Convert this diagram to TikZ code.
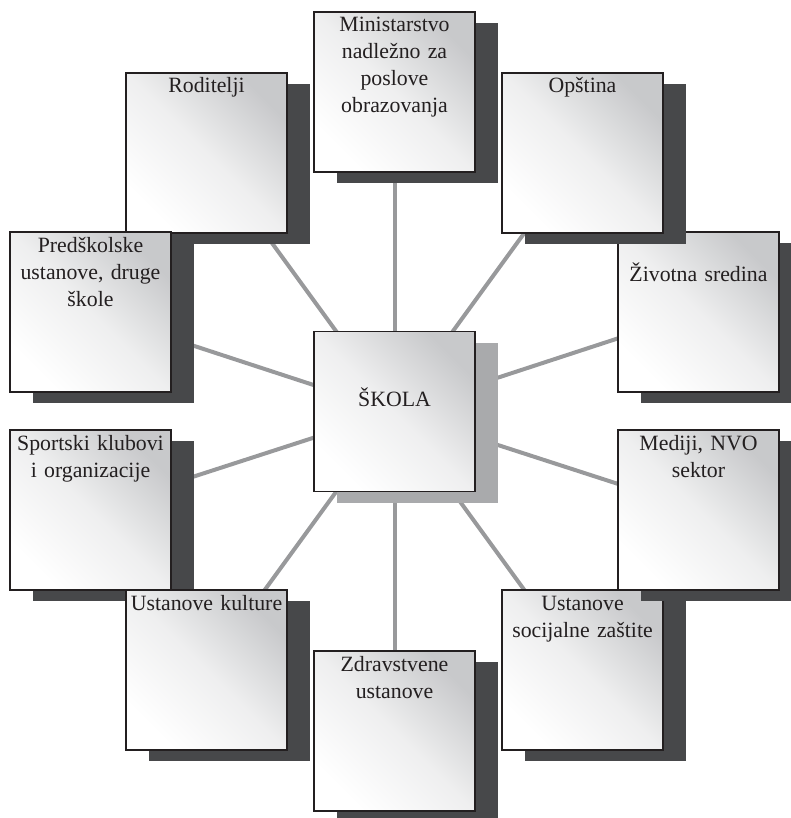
\documentclass[tikz,border=0pt]{standalone}
\usepackage{fontspec}
\setmainfont{Liberation Serif}
\usetikzlibrary{shadows, backgrounds}
\definecolor{shadowcolor}{HTML}{47484A}
\definecolor{hubshadow}{HTML}{A9AAAC}
\definecolor{linkcolor}{HTML}{98999B}
\definecolor{boxgray}{HTML}{C8C9CB}
\definecolor{edgecolor}{HTML}{231F20}
\definecolor{textcolor}{HTML}{231F20}

\begin{document}
\begin{tikzpicture}[x=0.5pt, y=-0.5pt, font=\fontsize{10.9}{13.5}\selectfont, text=textcolor,
    card/.style={rectangle, draw=edgecolor, line width=0.6pt, top color=boxgray, bottom color=white,
        middle color=boxgray!30!white, shading angle=-45,
        minimum width=80.5pt, minimum height=80pt, text width=78pt, inner xsep=1.25pt, inner ysep=0pt, align=center,
        text height=10pt, text depth=70pt,
        drop shadow={shadow xshift=11.5pt, shadow yshift=-5.5pt, fill=shadowcolor, opacity=1}},
    hub/.style={card, text height=37.5pt, text depth=42.5pt,
        drop shadow={shadow xshift=11.5pt, shadow yshift=-5.5pt, fill=hubshadow, opacity=1}},
    link/.style={draw=linkcolor, line width=2pt}
]
\useasboundingbox (0,0) rectangle (791,818);

% outer boxes, left side top to bottom, then right side bottom to top
\node[card] (roditelji) at (206.5,153) {Roditelji};
\node[card] (predskolske) at (90.5,312) {Predškolske\\ ustanove, druge\\ škole};
\node[card] (sport) at (90.5,510) {Sportski klubovi\\ i organizacije};
\node[card] (kultura) at (206.5,670) {Ustanove kulture};
\node[card] (zdravstvo) at (394.5,731) {Zdravstvene\\ ustanove};
\node[card] (socijalne) at (582.5,670) {Ustanove\\ socijalne zaštite};
\node[card] (mediji) at (698.5,510) {Mediji, NVO\\ sektor};
\node[card, text height=24.5pt, text depth=55.5pt] (sredina) at (698.5,312) {Životna sredina};
\node[card] (opstina) at (582.5,153) {Opština};
\node[card] (ministarstvo) at (394.5,92) {Ministarstvo\\ nadležno za\\ poslove\\ obrazovanja};

% centre
\node[hub] (skola) at (394.5,411.5) {ŠKOLA};

% links behind everything
\begin{scope}[on background layer]
\foreach \n in {roditelji, predskolske, sport, kultura, zdravstvo, socijalne, mediji, sredina, opstina, ministarstvo}
    \draw[link] (skola.center) -- (\n.center);
\end{scope}

\end{tikzpicture}
\end{document}
